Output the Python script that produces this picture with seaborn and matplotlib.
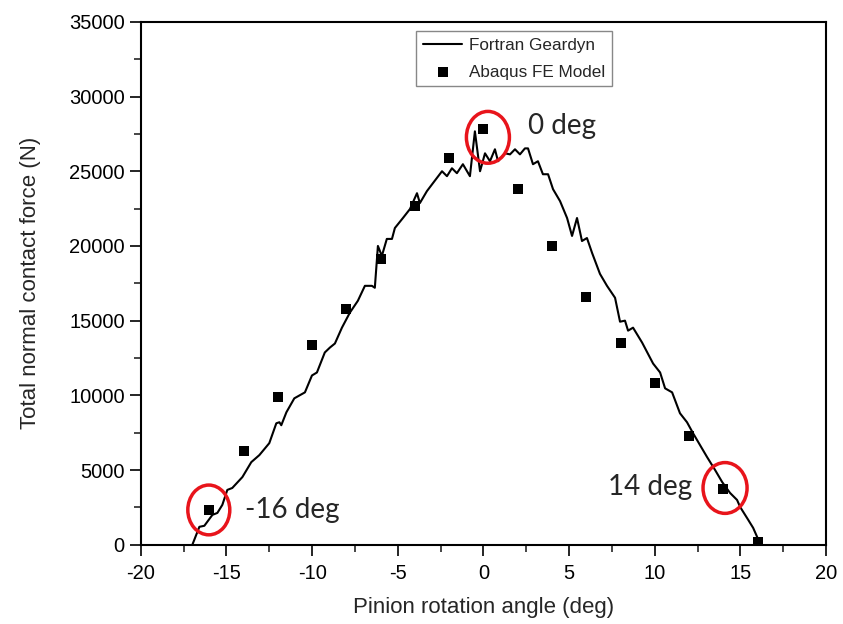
import numpy as np
import pandas as pd
import matplotlib
matplotlib.use("Agg")
import matplotlib.pyplot as plt
from matplotlib.patches import Ellipse
from matplotlib.ticker import MultipleLocator
import seaborn as sns

# Fortran Geardyn curve
geardyn_angle = [-16.99, -16.58, -16.29, -15.82, -15.53, -15.24, -14.95, -14.66, -14.07, -13.55,
                 -13.08, -12.50, -12.09, -11.91, -11.80, -11.50, -11.04, -10.42, -10.01, -9.72,
                 -9.26, -8.96, -8.67, -8.26, -7.80, -7.33, -6.92, -6.51, -6.34, -6.16,
                 -5.93, -5.64, -5.34, -5.17, -4.70, -4.29, -3.88, -3.71, -3.30, -2.95,
                 -2.42, -2.13, -1.84, -1.55, -1.20, -0.79, -0.50, -0.20, 0.09, 0.38,
                 0.67, 0.85, 1.26, 1.55, 1.84, 2.13, 2.42, 2.60, 2.89, 3.18,
                 3.47, 3.77, 4.06, 4.47, 4.88, 5.17, 5.46, 5.75, 6.04, 6.34,
                 6.80, 7.21, 7.68, 7.97, 8.26, 8.44, 8.73, 9.26, 9.90, 10.31,
                 10.60, 11.01, 11.47, 11.88, 12.23, 13.05, 13.52, 13.93, 14.39, 14.80,
                 14.98, 15.45, 15.74, 15.97, 16.15]
geardyn_force = [0, 1200, 1270, 2000, 2130, 2670, 3670, 3800, 4530, 5530,
                 6000, 6800, 8130, 8200, 8000, 8870, 9800, 10200, 11330, 11530,
                 12870, 13200, 13470, 14530, 15530, 16330, 17330, 17330, 17200, 20000,
                 19330, 20470, 20470, 21200, 21870, 22470, 23530, 22870, 23670, 24200,
                 25000, 24670, 25200, 24870, 25470, 24670, 27670, 25000, 26200, 25670,
                 26470, 25670, 26200, 26130, 26470, 26130, 26530, 26530, 25470, 25670,
                 24800, 24800, 23800, 23000, 21870, 20670, 21870, 20330, 20530, 19530,
                 18130, 17330, 16530, 14930, 15000, 14330, 14530, 13530, 12130, 11530,
                 10470, 10200, 8800, 8200, 7470, 5870, 5000, 4200, 3470, 3000,
                 2530, 1670, 1130, 530, 0]

# Abaqus FE model points
abaqus_angle = [-16, -14, -12, -10, -8, -6, -4, -2, 0, 2, 4, 6, 8, 10, 12, 14, 16]
abaqus_force = [2300, 6300, 9900, 13400, 15800, 19100, 22700, 25900, 27800,
                23800, 20000, 16600, 13500, 10800, 7300, 3700, 200]

# Highlighted points
note_labels = ["-16 deg", "0 deg", "14 deg"]
note_angle = [-16.03, 0.26, 14.1]
note_force = [2330, 27270, 3800]

sns.set_style("ticks")
plt.rcParams['font.family'] = ['Liberation Sans', 'DejaVu Sans']
plt.rcParams['axes.unicode_minus'] = False

fig = plt.figure(figsize=(8.43, 6.24), dpi=100)
ax = fig.add_axes([0.167, 0.127, 0.813, 0.838])

df_line = pd.DataFrame({"angle": geardyn_angle, "force": geardyn_force})
df_pts = pd.DataFrame({"angle": abaqus_angle, "force": abaqus_force})

sns.lineplot(data=df_line, x="angle", y="force", ax=ax, color="black", lw=1.5,
             sort=False, label="Fortran Geardyn", estimator=None)
sns.scatterplot(data=df_pts, x="angle", y="force", ax=ax, color="black", marker="s",
                s=55, edgecolor="black", linewidth=0, label="Abaqus FE Model", zorder=5)

ax.set_xlim(-20, 20)
ax.set_ylim(0, 35000)
ax.xaxis.set_major_locator(MultipleLocator(5))
ax.xaxis.set_minor_locator(MultipleLocator(2.5))
ax.yaxis.set_major_locator(MultipleLocator(5000))
ax.yaxis.set_minor_locator(MultipleLocator(2500))
ax.tick_params(which="major", direction="out", length=8, width=1.2, labelsize=14.5,
               colors="black", top=False, right=False)
ax.tick_params(axis="x", which="major", pad=6)
ax.tick_params(which="minor", direction="out", length=5, width=1.2, top=False, right=False)
for sp in ax.spines.values():
    sp.set_linewidth(1.5)
    sp.set_color("black")
    sp.set_visible(True)

ax.set_xlabel("Pinion rotation angle (deg)", fontsize=16, labelpad=10)
ax.set_ylabel("Total normal contact force (N)", fontsize=16, labelpad=20)

# Red circles
circ_w = [2.45, 2.51, 2.57]
circ_h = [3330, 3470, 3400]
for xa, ya, w, h in zip(note_angle, note_force, circ_w, circ_h):
    ax.add_patch(Ellipse((xa, ya), w, h, fill=False, edgecolor="#e8141b", lw=2.5, zorder=6))

ann_font = ['Lato', 'DejaVu Sans']
ax.text(-13.93, 2350, note_labels[0], fontsize=20, family=ann_font, va="center", ha="left")
ax.text(2.6, 28000, note_labels[1], fontsize=20, family=ann_font, va="center", ha="left")
ax.text(12.18, 3870, note_labels[2], fontsize=20, family=ann_font, va="center", ha="right")

leg = ax.legend(loc="upper right", bbox_to_anchor=(0.688, 0.983), fontsize=12.3, frameon=True,
                fancybox=False, framealpha=1, edgecolor="#888888", handlelength=2.3,
                borderpad=0.4, labelspacing=0.7, handletextpad=0.4, borderaxespad=0)
leg.get_frame().set_linewidth(1.0)

fig.savefig("out.png", dpi=100)
